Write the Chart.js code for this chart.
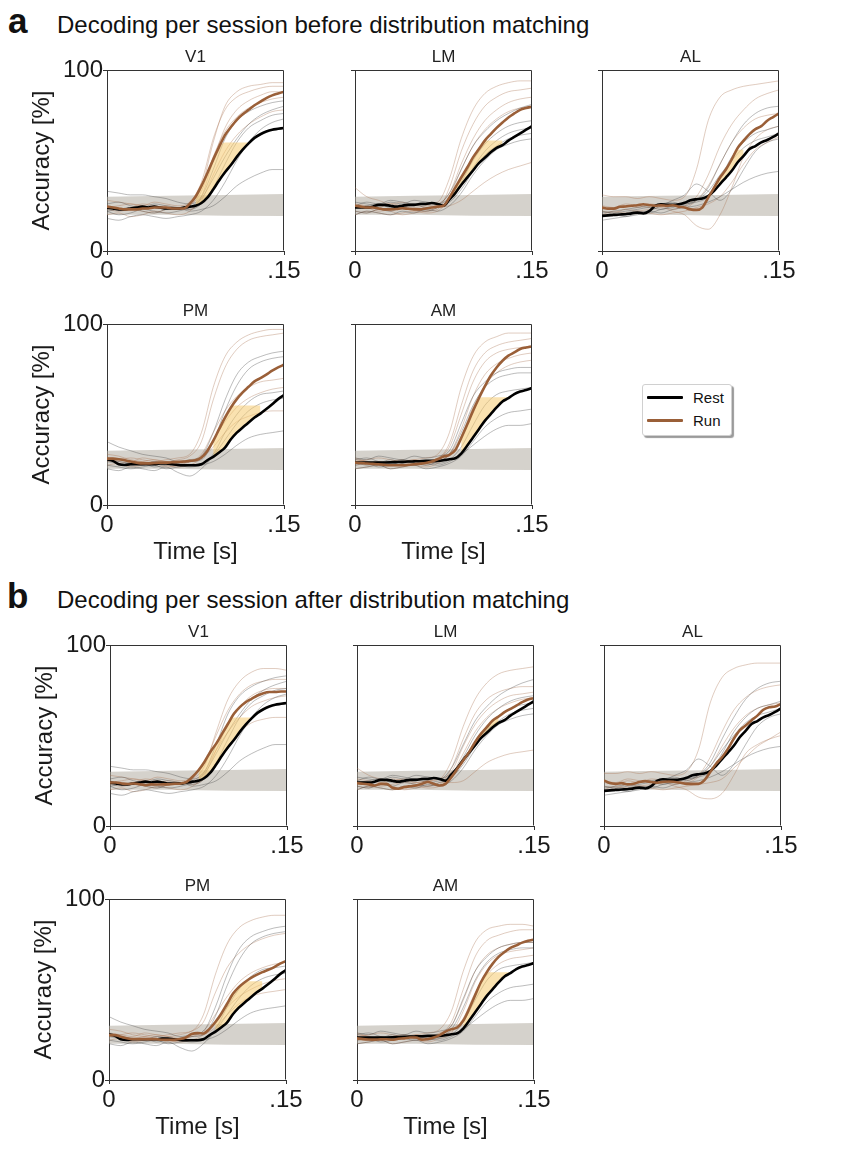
<!DOCTYPE html>
<html>
<head>
<meta charset="utf-8">
<script src="https://cdn.jsdelivr.net/npm/chart.js@4.4.1/dist/chart.umd.min.js"></script>
<style>
body { margin: 0; background: #fff; width: 867px; height: 1152px; position: relative; overflow: hidden;
       font-family: "Liberation Sans", Arial, sans-serif; color: #111; }
canvas { position: absolute; }
.tag { position: absolute; font-size: 35px; font-weight: bold; line-height: 35px; }
.hdr { position: absolute; font-size: 24px; line-height: 24px; white-space: nowrap; }
#legend { position: absolute; left: 642px; top: 384px; width: 88px; height: 50px; background: #fff;
          border: 1px solid #d0d0d0; border-radius: 3px; box-shadow: 2px 2px 1px #9a9a9a; }
#legend .sw { position: absolute; left: 4px; width: 36px; height: 3px; border-radius: 1px; }
#legend .tx { position: absolute; left: 50px; font-size: 15px; line-height: 15px; }
</style>
</head>
<body>
<div class="tag" style="left:8px;top:3px">a</div>
<div class="hdr" style="left:57px;top:13px">Decoding per session before distribution matching</div>
<div class="tag" style="left:7px;top:578px">b</div>
<div class="hdr" style="left:57px;top:588px">Decoding per session after distribution matching</div>
<div id="legend">
  <div class="sw" style="top:11px;background:#000"></div><div class="tx" style="top:5px">Rest</div>
  <div class="sw" style="top:34px;background:#9a5f38"></div><div class="tx" style="top:28px">Run</div>
</div>
<script>
// time axes (s)
const tMean = [0,0.005,0.01,0.015,0.02,0.025,0.03,0.035,0.04,0.045,0.05,0.055,0.06,0.065,0.07,0.075,
               0.08,0.085,0.09,0.095,0.1,0.105,0.11,0.115,0.12,0.125,0.13,0.135,0.14,0.145,0.15];
const tSess = [0,0.01,0.02,0.03,0.04,0.05,0.06,0.07,0.08,0.09,0.1,0.11,0.12,0.13,0.14,0.15];
const tBand = [0,0.05,0.1,0.15];
const bandLow = [20,20,19.5,19.3];
const bandHigh = [30,30.5,31,31.5];
const xTicks = [0, 0.15];
const yTicks = [0, 100];

// ---- V1 ----
const v1Rest = [24,23.5,23,23,23.5,24,24.5,24,24.5,24,23.5,23.5,23.5,24,24.5,25,26.5,29.5,34,39,43.5,47.5,52,56,59.5,62.5,64.5,66,67,67.5,68];
const v1RunA = [24.5,24,23.5,23,23,23,23.5,23.5,24,24,24,23.5,23.5,23.5,26,30,36,43,50.5,57.5,64,68.5,72.5,75.5,78,80.5,82.5,84.5,86,87,88];
const v1RunB = [24,24,23.5,23.2,23.5,23.1,22.6,23,22.9,23,23,23.3,23.5,24.4,27.2,30.8,35.4,40.9,45.5,51,56.5,62,65.7,68.4,70.3,72.1,73.4,74,74,74.3,74.3];
const v1RestSess = [
  [33,32,31,31,30,29,27,26,30,45,62,72,77,80,82,83],
  [22,20,21,23,22,21,22,24,29,40,52,62,70,75,78,80],
  [26,27,25,24,26,25,24,23,26,35,48,60,68,72,75,76],
  [18,17,19,20,19,18,19,20,22,28,38,50,60,67,71,73],
  [22,23,24,22,21,23,24,22,23,25,30,36,40,43,45,45]];
const v1RunSessA = [
  [24,25,26,25,24,25,24,26,35,60,80,88,91,92,93,93],
  [28,27,26,25,27,26,25,27,38,62,78,85,88,90,91,91],
  [20,21,19,20,22,21,20,22,30,50,68,78,83,86,88,88],
  [25,23,24,26,25,24,23,25,33,52,66,74,79,82,84,85],
  [23,22,23,22,21,23,24,23,28,42,55,64,70,74,77,78]];
const v1RunSessB = [
  [24,25,26,25,24,25,24,26,33,52,70,80,85,87,87,86],
  [28,27,26,25,27,26,25,27,35,50,64,73,78,80,81,81],
  [20,21,19,20,22,21,20,22,28,42,56,66,72,75,76,76],
  [25,23,24,26,25,24,23,25,30,42,52,60,66,69,71,72],
  [23,22,23,22,21,23,24,23,26,34,44,52,57,59,60,60]];

// ---- LM ----
const lmRest = [24,24,24,24.5,25.5,25.5,25,24.5,25,25.5,25.5,26,26,26.5,26,25,28.5,32,36.5,40.5,44.5,48.5,51.5,54.5,57,58.5,61,63,65,67,69];
const lmRunA = [25,24.5,24,24,23.5,23,23,23.2,23.6,23.3,23,23,23.5,24,24.5,25,29.5,35,40.6,46,51.7,56.3,61,64.6,68,71,73.8,76,78,79,79.7];
const lmRunB = [23.7,23.3,23,22.4,23.3,23.3,21.1,20.6,21.5,22,22.4,23.3,24.3,23.3,22.4,23.3,27,31.6,36.2,40.8,46.3,50.9,54.6,58.3,60.5,62.9,64.7,66.5,68.4,69.9,70.6];
const lmRestSess = [
  [25,27,26,28,27,26,27,26,32,45,58,66,72,76,79,81],
  [22,21,23,22,24,23,22,24,28,38,50,59,65,69,71,72],
  [27,26,25,27,26,28,27,26,29,36,46,55,61,65,67,68],
  [20,22,21,20,22,21,23,22,25,32,42,50,56,59,61,62],
  [24,25,26,24,25,26,24,25,27,34,44,53,58,62,64,65]];
const lmRunSessA = [
  [35,30,28,26,27,25,26,27,40,62,78,87,91,93,94,94],
  [22,21,23,22,20,21,22,23,35,55,70,80,85,88,89,90],
  [26,25,24,26,25,24,25,26,32,48,62,72,78,82,84,85],
  [20,22,21,20,21,22,21,22,30,45,58,67,73,77,79,80],
  [25,24,22,23,24,23,22,24,25,28,33,38,42,45,47,49]];
const lmRunSessB = [
  [32,28,26,25,26,24,25,26,36,55,70,79,84,86,87,88],
  [22,21,23,22,20,21,22,23,32,48,62,70,74,76,77,77],
  [26,25,24,26,25,24,25,26,30,44,56,64,69,72,73,74],
  [20,22,21,20,21,22,21,22,28,40,52,60,65,68,70,71],
  [25,24,22,23,24,23,22,24,24,25,30,35,38,40,41,42]];

// ---- AL ----
const alRest = [19.4,19.7,20,20.2,20.3,20.8,21.2,20.7,22,25,25.8,25.5,25.5,25.8,26.7,28,28.6,29,30.4,33.2,37,40.6,44.3,49,52.6,56.3,58,60,61.3,63,65];
const alRunA = [24,23.4,23.4,24.4,24.6,25,25.3,25.8,25.3,25,25.2,25,25.3,24.5,24,23,22.7,24,29.5,35,40.6,45,50.7,57,61,64.6,67.3,69,72,74,76];
const alRunB = [25.2,23.7,23.3,23.7,23,23.3,24.3,24.8,24.3,23.9,24.3,24.6,24.3,23.9,23.3,23.3,23.3,25.2,29.8,34.4,38,42.6,48.2,52.8,55.5,58.3,61,64.2,65.6,66,67.5];
const alRestSess = [
  [17,18,19,20,22,25,28,31,37,33,28,34,45,55,60,62],
  [22,21,22,23,24,23,25,26,28,35,48,60,70,76,79,80],
  [20,19,21,22,21,23,24,26,27,30,40,52,60,65,67,69],
  [19,20,19,21,22,21,23,24,25,27,30,34,38,41,43,44],
  [21,22,23,24,25,26,27,25,28,33,42,50,57,61,63,65]];
const alRunSessA = [
  [31,30,30,29,30,29,28,30,45,72,85,89,91,92,93,94],
  [24,23,25,24,26,25,23,25,30,42,58,70,78,84,87,89],
  [20,22,21,22,23,24,22,20,14,12,20,35,52,62,67,69],
  [22,21,23,22,21,20,21,22,24,26,30,38,48,56,60,63],
  [25,24,26,25,24,26,25,24,28,36,48,60,68,73,75,76]];
const alRunSessB = [
  [29,29,30,29,30,29,28,30,42,68,82,87,89,90,90,90],
  [24,23,25,24,26,25,23,25,28,38,52,64,71,75,77,78],
  [20,22,21,22,23,24,22,20,16,15,18,28,40,45,48,50],
  [22,21,23,22,21,20,21,22,23,24,26,32,38,44,48,52],
  [25,24,26,25,24,26,25,24,27,33,44,54,61,65,67,68]];

// ---- PM ----
const pmRest = [25.3,24.4,22.5,22.1,22.5,22.5,22.5,22.5,22.5,22.9,22.9,22.5,22.1,22,22,22,22.5,24.7,26.6,29,31.7,36.3,40,42.8,45.6,48.3,50.5,53,55.7,58.5,60.7];
const pmRunA = [25.6,25.6,25.3,24.7,24,23.4,23,23,23.2,23.4,23.4,23.6,23.8,24,24.4,24.7,26.2,29.9,35.4,41.9,48.3,53.9,58.5,62.2,65.3,68.3,70.1,72,74.2,76,77.5];
const pmRunB = [24.8,24.8,23.9,23.1,22.6,22.6,22.6,22.6,22.6,22.2,22.2,22.2,22.6,23.5,25.4,25.9,25.7,28.1,31.9,36.5,42,47.6,51.3,54,56.3,58.1,59.6,60.9,62.4,64.3,65.7];
const pmRestSess = [
  [35,32,30,28,27,26,24,25,27,40,58,72,79,82,84,85],
  [24,23,22,23,21,22,23,24,25,35,52,66,75,79,81,82],
  [22,21,20,21,22,20,21,22,23,28,40,50,57,61,62,63],
  [20,19,21,20,19,21,18,16,20,27,36,45,52,56,58,59],
  [25,24,23,22,24,23,22,21,22,24,28,33,37,39,40,41]];
const pmRunSessA = [
  [24,25,26,25,24,25,26,28,40,65,82,90,94,96,97,97],
  [26,25,24,26,25,24,25,27,35,58,76,86,91,93,94,95],
  [22,23,21,22,23,21,22,24,28,40,52,60,65,68,69,70],
  [28,27,25,24,23,22,21,22,26,36,46,54,59,62,64,65],
  [25,24,23,24,25,24,23,24,26,32,40,46,49,51,52,52]];
const pmRunSessB = [
  [24,25,26,25,24,25,26,27,36,58,75,84,88,90,91,91],
  [26,25,24,26,25,24,25,27,32,48,62,70,75,78,80,81],
  [22,23,21,22,23,21,22,24,27,36,46,54,59,62,64,65],
  [28,27,25,24,23,22,21,22,25,32,40,46,50,53,55,56],
  [25,24,23,24,25,24,23,24,25,29,36,42,46,48,49,50]];

// ---- AM ----
const amRest = [23.4,23.4,23.4,23.4,23.4,23.5,23.6,23.7,23.8,24,24.1,24.2,24.4,24.4,24.4,24.7,25.3,25.8,28.4,32.7,37.3,41.9,46.5,50.2,53.9,57.2,59,61.3,62.7,63.5,64.6];
const amRunA = [23.4,23.2,22.9,22.7,22.5,22.2,22,22,22,22.2,22.5,22.8,23.2,24,25.3,26.8,27.7,30.4,37,44.3,52,59,65.5,71.4,76,79.7,82.5,84.3,86.2,87,87.6];
const amRunB = [23,22.6,22.4,22.3,22.5,22.5,22.2,22.8,23,23.5,23.5,22.2,22.6,23.5,24.8,26.7,28.1,29,32.7,39.2,46.7,54,59.6,64.3,68,70.7,73,74.4,75.9,76.9,77.6];
const amRestSess = [
  [26,25,27,26,25,27,26,27,30,45,60,68,73,75,76,76],
  [22,23,21,22,24,23,22,24,28,40,55,65,70,72,73,73],
  [24,22,23,25,23,22,24,23,25,32,44,55,61,63,64,65],
  [20,21,22,20,21,22,20,21,23,27,35,43,48,51,52,53],
  [25,26,24,23,25,24,23,22,24,28,33,38,42,44,44,45]];
const amRunSessA = [
  [24,25,26,25,24,25,26,28,40,65,82,90,93,95,95,95],
  [22,23,24,22,23,24,22,25,34,55,74,84,88,90,91,92],
  [25,24,23,24,25,23,24,26,32,50,68,79,84,86,87,88],
  [20,21,22,20,21,22,21,23,28,42,60,72,78,81,83,84],
  [26,24,22,23,24,25,23,24,28,38,54,66,73,77,79,80]];
const amRunSessB = [
  [24,25,26,25,24,25,26,28,38,60,76,83,85,86,86,85],
  [22,23,24,22,23,24,22,25,32,50,68,77,80,82,83,83],
  [25,24,23,24,25,23,24,26,30,44,60,69,73,75,76,76],
  [20,21,22,20,21,22,21,23,26,38,54,64,69,71,72,73],
  [26,24,22,23,24,25,23,24,27,34,48,58,64,67,68,69]];

// significant-difference shading: [first index, last index, top cap %]
const v1FillA = [15, 24, 60], v1FillB = [15, 24, 60];
const lmFillA = [16, 25, 61], lmFillB = [18, 24, 60];
const alFillA = [19, 24, 56], alFillB = null;
const pmFillA = [18, 26, 55], pmFillB = [18, 26, 54.5];
const amFillA = [18, 27, 59.5], amFillB = [18, 27, 59.5];

// canvas margins around each plot area
const L = 85, T = 30, R = 22, B = 65;
const PW = 177, PH = 181;
const FONT = '"Liberation Sans", Arial, sans-serif';
const BROWN = '#9a5f38';

const panels = [
  {name: 'V1', x: 107, y: 70, yLab: true, xLab: false, rest: v1Rest, run: v1RunA, rs: v1RestSess, us: v1RunSessA, fill: v1FillA},
  {name: 'LM', x: 355, y: 70, yLab: false, xLab: false, rest: lmRest, run: lmRunA, rs: lmRestSess, us: lmRunSessA, fill: lmFillA},
  {name: 'AL', x: 602, y: 70, yLab: false, xLab: false, rest: alRest, run: alRunA, rs: alRestSess, us: alRunSessA, fill: alFillA},
  {name: 'PM', x: 107, y: 323.5, yLab: true, xLab: true, rest: pmRest, run: pmRunA, rs: pmRestSess, us: pmRunSessA, fill: pmFillA},
  {name: 'AM', x: 355, y: 323.5, yLab: false, xLab: true, rest: amRest, run: amRunA, rs: amRestSess, us: amRunSessA, fill: amFillA},
  {name: 'V1', x: 110, y: 644.5, yLab: true, xLab: false, rest: v1Rest, run: v1RunB, rs: v1RestSess, us: v1RunSessB, fill: v1FillB},
  {name: 'LM', x: 357, y: 644.5, yLab: false, xLab: false, rest: lmRest, run: lmRunB, rs: lmRestSess, us: lmRunSessB, fill: lmFillB},
  {name: 'AL', x: 604, y: 644.5, yLab: false, xLab: false, rest: alRest, run: alRunB, rs: alRestSess, us: alRunSessB, fill: alFillB},
  {name: 'PM', x: 109, y: 899, yLab: true, xLab: true, rest: pmRest, run: pmRunB, rs: pmRestSess, us: pmRunSessB, fill: pmFillB},
  {name: 'AM', x: 357, y: 899, yLab: false, xLab: true, rest: amRest, run: amRunB, rs: amRestSess, us: amRunSessB, fill: amFillB}
];

function pts(xs, ys) {
  return ys.map((v, i) => ({x: xs[i], y: v}));
}

function lineSet(data, color, width, order) {
  return {data: data, borderColor: color, borderWidth: width, pointRadius: 0, fill: false,
          cubicInterpolationMode: 'monotone', order: order};
}

const frame = {
  id: 'frame',
  afterDraw(chart, args, opts) {
    const ctx = chart.ctx, a = chart.chartArea;
    ctx.save();
    ctx.strokeStyle = '#333';
    ctx.lineWidth = 1;
    ctx.beginPath();
    const l = Math.round(a.left) + 0.5, t = Math.round(a.top) + 0.5;
    const r = Math.round(a.right) - 0.5, b = Math.round(a.bottom) - 0.5;
    ctx.moveTo(l, t); ctx.lineTo(r, t); ctx.lineTo(r, b);
    ctx.stroke();
    ctx.fillStyle = '#222';
    ctx.font = '17px ' + FONT;
    ctx.textAlign = 'center';
    ctx.textBaseline = 'alphabetic';
    ctx.fillText(opts.name, (a.left + a.right) / 2, a.top - 8);
    ctx.restore();
  }
};

function drawPanel(p) {
  const cv = document.createElement('canvas');
  cv.width = L + PW + R;
  cv.height = T + PH + B;
  cv.style.left = (p.x - L) + 'px';
  cv.style.top = (p.y - T) + 'px';
  document.body.appendChild(cv);

  const ds = [];
  // shuffle band first so the session traces stay visible over it
  ds.push({data: pts(tBand, bandLow), borderColor: 'rgba(0,0,0,0)', borderWidth: 0, pointRadius: 0, fill: false, order: 6});
  ds.push({data: pts(tBand, bandHigh), borderColor: 'rgba(0,0,0,0)', borderWidth: 0, pointRadius: 0,
           fill: '-1', backgroundColor: 'rgba(178,173,162,0.55)', order: 6});
  p.rs.forEach(s => ds.push(lineSet(pts(tSess, s), 'rgba(70,70,70,0.36)', 1, 5)));
  p.us.forEach(s => ds.push(lineSet(pts(tSess, s), 'rgba(170,115,80,0.36)', 1, 5)));
  const restIdx = ds.length;
  ds.push(lineSet(pts(tMean, p.rest), '#000', 2.6, 1));
  if (p.fill) {
    const [i0, i1, cap] = p.fill;
    const top = [];
    for (let i = i0; i <= i1; i++) top.push({x: tMean[i], y: Math.min(p.run[i], cap)});
    ds.push({data: top, borderColor: 'rgba(0,0,0,0)', borderWidth: 0, pointRadius: 0,
             cubicInterpolationMode: 'monotone', order: 3,
             fill: {target: restIdx, above: 'rgba(246,202,112,0.55)', below: 'rgba(0,0,0,0)'}});
  }
  ds.push(lineSet(pts(tMean, p.run), BROWN, 2.6, 0));

  const tickFont = {family: FONT, size: 24};
  new Chart(cv.getContext('2d'), {
    type: 'line',
    data: {datasets: ds},
    options: {
      responsive: false,
      animation: false,
      events: [],
      layout: {padding: {left: 0, top: T, right: R, bottom: 0}},
      plugins: {legend: {display: false}, tooltip: {enabled: false}, frame: {name: p.name}},
      scales: {
        x: {
          type: 'linear', min: 0, max: 0.15,
          afterBuildTicks: s => { s.ticks = xTicks.map(v => ({value: v})); },
          afterFit: s => { s.height = B; s.paddingLeft = 0; s.paddingRight = 0; },
          ticks: {font: tickFont, color: '#1a1a1a', padding: 2, maxRotation: 0, autoSkip: false,
                  callback: v => (v < 0.01 ? '0' : '.15')},
          grid: {drawOnChartArea: false, drawTicks: true, tickLength: 4, color: '#333'},
          border: {color: '#333', width: 1},
          title: {display: p.xLab, text: 'Time [s]', font: {family: FONT, size: 24}, color: '#1a1a1a',
                  padding: {top: 0, bottom: 3}}
        },
        y: {
          type: 'linear', min: 0, max: 100,
          afterBuildTicks: s => { s.ticks = yTicks.map(v => ({value: v})); },
          afterFit: s => { s.width = L; s.paddingTop = 0; s.paddingBottom = 0; },
          ticks: {font: tickFont, color: '#1a1a1a', padding: 0,
                  callback: v => (p.yLab ? String(v) : '')},
          grid: {drawOnChartArea: false, drawTicks: true, tickLength: 4, color: '#333'},
          border: {color: '#333', width: 1},
          title: {display: p.yLab, text: 'Accuracy [%]', font: {family: FONT, size: 24}, color: '#1a1a1a',
                  padding: {top: 6, bottom: 0}}
        }
      }
    },
    plugins: [frame]
  });
}

panels.forEach(drawPanel);
</script>
</body>
</html>
